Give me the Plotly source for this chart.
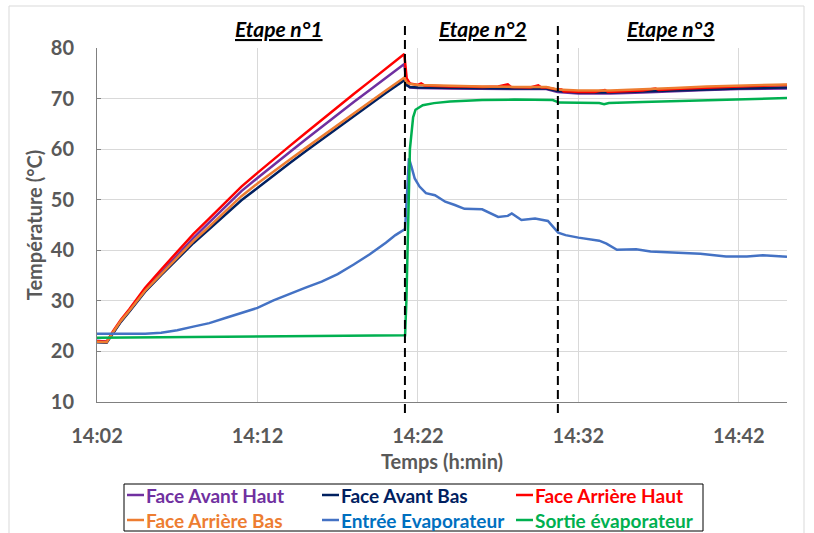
import plotly.graph_objects as go

# ---------------- data (minutes after 14:02, temperature in °C) ----------------
tick_vals = [0, 10, 20, 30, 40]
tick_labels = ["14:02", "14:12", "14:22", "14:32", "14:42"]

stage_bounds = [19.19, 28.72]
stage_labels = ["Etape n°1", "Etape n°2", "Etape n°3"]
stage_label_x = [11.37, 24.08, 35.76]

t_avant_haut = [0, 0.6, 1.0, 1.5, 2, 3, 4, 5, 6, 7, 8, 9, 10, 11, 12, 13, 14, 15, 16, 17, 18, 19, 19.15,
                19.25, 19.4, 19.5, 20, 22, 24, 26, 28, 28.7, 30, 32, 34, 36, 38, 40, 43]
face_avant_haut = [22.1, 21.9, 23.7, 26.0, 28.0, 32.1, 35.6, 39.1, 42.4, 45.5, 48.6, 51.7, 54.3, 56.9, 59.4,
                   61.9, 64.4, 66.8, 69.3, 71.7, 74.1, 76.4, 76.85,
                   74.0, 72.5, 72.2, 72.1, 72.0, 71.9, 71.9, 71.9, 71.3, 71.0, 71.0, 71.2, 71.5, 71.7, 71.9, 72.0]

t_avant_bas = [0, 0.6, 1.0, 1.5, 2, 3, 4, 5, 6, 7, 8, 9, 10, 11, 12, 13, 14, 15, 16, 17, 18, 19, 19.15,
               19.3, 19.5, 20, 22, 24, 26, 28, 28.7, 30, 32, 34, 36, 38, 40, 43]
face_avant_bas = [21.8, 21.7, 23.6, 25.9, 27.8, 31.8, 35.1, 38.3, 41.4, 44.2, 47.1, 49.9, 52.3, 54.8, 57.2,
                  59.6, 61.9, 64.2, 66.6, 68.8, 71.1, 73.3, 73.65,
                  72.6, 72.3, 72.2, 72.1, 72.0, 72.0, 72.0, 71.5, 71.2, 71.2, 71.4, 71.6, 71.9, 72.0, 72.2]

t_arriere_haut = [0, 0.6, 1.0, 1.5, 2, 3, 4, 5, 6, 7, 8, 9, 10, 11, 12, 13, 14, 15, 16, 17, 18, 19, 19.15,
                  19.3, 19.5, 20, 20.2, 20.4, 21, 22, 23, 24, 25, 25.6, 25.8, 26, 27, 27.5, 27.7, 28, 28.5,
                  28.95, 29.1, 29.5, 30, 31, 31.65, 31.85, 32.5, 34, 34.8, 35, 36, 38, 40, 42, 43]
face_arriere_haut = [22.0, 21.9, 24.0, 26.3, 28.3, 32.6, 36.2, 39.8, 43.2, 46.3, 49.5, 52.6, 55.3, 58.0, 60.6,
                     63.2, 65.8, 68.3, 70.9, 73.4, 75.9, 78.3, 78.8,
                     74.0, 73.0, 72.7, 73.0, 72.6, 72.5, 72.4, 72.4, 72.3, 72.4, 72.8, 72.3, 72.3, 72.2, 72.6,
                     72.2, 72.2, 71.9, 71.8, 71.4, 71.4, 71.3, 71.3, 71.7, 71.3, 71.4, 71.6, 72.0, 71.7, 71.9,
                     72.2, 72.4, 72.6, 72.7]

t_arriere_bas = [0, 0.6, 1.0, 1.5, 2, 3, 4, 5, 6, 7, 8, 9, 10, 11, 12, 13, 14, 15, 16, 17, 18, 19, 19.15,
                 19.3, 19.5, 20, 22, 24, 26, 28, 28.7, 30, 32, 34, 36, 38, 40, 43]
face_arriere_bas = [21.9, 21.8, 23.8, 26.1, 28.0, 32.0, 35.3, 38.6, 41.8, 44.7, 47.8, 50.7, 53.2, 55.6, 57.9,
                    60.2, 62.5, 64.8, 67.1, 69.4, 71.6, 73.8, 74.15,
                    73.2, 72.9, 72.7, 72.5, 72.4, 72.3, 72.3, 71.8, 71.6, 71.6, 71.8, 72.1, 72.4, 72.6, 72.8]

t_entree = [0, 3, 4, 5, 6, 7, 8, 9, 10, 11, 12, 13, 14, 15, 16, 17, 18, 18.6, 19.2, 19.3, 19.44, 19.6, 19.8,
            20.1, 20.5, 21.06, 21.7, 22.3, 22.9, 24.0, 24.6, 25.0, 25.6, 25.85, 26.45, 27.3, 28.1, 28.4,
            28.74, 29.2, 30.0, 31.3, 31.75, 32.4, 33.6, 34.5, 36.1, 37.6, 39.2, 40.5, 41.5, 43]
entree_evap = [23.5, 23.5, 23.7, 24.2, 24.9, 25.6, 26.6, 27.6, 28.6, 30.1, 31.4, 32.6, 33.8, 35.3, 37.2,
               39.2, 41.5, 43.0, 44.2, 50.0, 58.2, 56.5, 54.2, 52.6, 51.3, 50.9, 49.6, 48.95, 48.2, 48.1,
               47.2, 46.6, 46.8, 47.3, 46.0, 46.3, 45.8, 44.7, 43.5, 43.0, 42.5, 41.9, 41.3, 40.1, 40.2,
               39.75, 39.55, 39.3, 38.75, 38.75, 39.0, 38.7]

t_sortie = [0, 5, 10, 15, 19.2, 19.28, 19.5, 19.7, 19.85, 20.3, 21, 22, 24, 26, 28, 28.4, 28.8, 30, 31.3,
            31.6, 31.9, 34, 36, 38, 40, 43]
sortie_evap = [22.7, 22.8, 22.9, 23.0, 23.2, 30.0, 60.0, 66.3, 67.8, 68.7, 69.1, 69.4, 69.7, 69.8, 69.8,
               69.7, 69.2, 69.1, 69.1, 68.9, 69.1, 69.3, 69.5, 69.7, 69.9, 70.1]

series_names = ["Face Avant Haut", "Face Avant Bas", "Face Arrière Haut",
                "Face Arrière Bas", "Entrée Evaporateur", "Sortie évaporateur"]
series_t = [t_avant_haut, t_avant_bas, t_arriere_haut, t_arriere_bas, t_entree, t_sortie]
series_v = [face_avant_haut, face_avant_bas, face_arriere_haut, face_arriere_bas, entree_evap, sortie_evap]
line_colors = ["#7030A0", "#002060", "#FF0000", "#ED7D31", "#4472C4", "#00B050"]
text_colors = ["#7030A0", "#002060", "#FF0000", "#ED7D31", "#0070C0", "#00B050"]

# ---------------- geometry helpers (pixel -> paper) ----------------
W, H = 814, 533
ML, MR, MT, MB = 97, 27, 48, 131
PW, PH = W - ML - MR, H - MT - MB


def px(x):
    return (x - ML) / PW


def py(y):
    return (H - MB - y) / PH


FONT = "Lato, 'Open Sans', sans-serif"
GREY = "#595959"

fig = go.Figure()
for name, t, v, c in zip(series_names, series_t, series_v, line_colors):
    fig.add_trace(go.Scatter(x=t, y=v, mode="lines", name=name,
                             line=dict(color=c, width=2.5), showlegend=False))

shapes = []
# chart-area border
shapes.append(dict(type="rect", xref="paper", yref="paper", x0=px(9), x1=px(804), y0=py(545), y1=py(6),
                   line=dict(color="#D9D9D9", width=1), fillcolor="rgba(0,0,0,0)", layer="below"))
# stage boundaries
for b in stage_bounds:
    shapes.append(dict(type="line", xref="x", yref="paper", x0=b, x1=b, y0=py(413), y1=py(22),
                       line=dict(color="black", width=2, dash="9px,5px")))
# legend box
shapes.append(dict(type="rect", xref="paper", yref="paper", x0=px(124), x1=px(703), y0=py(531), y1=py(484),
                   line=dict(color="black", width=1), fillcolor="white"))

annotations = []
for lab, x in zip(stage_labels, stage_label_x):
    annotations.append(dict(x=x, xref="x", y=py(28), yref="paper", showarrow=False,
                            text="<b><i><u>" + lab + "</u></i></b>", xanchor="center", yanchor="middle",
                            font=dict(family=FONT, size=21, color="black")))

col_x = [127, 322, 516]
row_y = [495, 520]
for i, (name, lc, tc) in enumerate(zip(series_names, line_colors, text_colors)):
    cx = col_x[i % 3]
    ry = row_y[i // 3]
    shapes.append(dict(type="line", xref="paper", yref="paper", x0=px(cx), x1=px(cx + 17),
                       y0=py(ry), y1=py(ry), line=dict(color=lc, width=2.5)))
    annotations.append(dict(x=px(cx + 17), xref="paper", y=py(ry), yref="paper", showarrow=False,
                            text="<b>" + name + "</b>", xanchor="left", yanchor="middle",
                            font=dict(family=FONT, size=19, color=tc)))

fig.update_layout(
    width=W, height=H,
    margin=dict(l=ML, r=MR, t=MT, b=MB, pad=0, autoexpand=False),
    plot_bgcolor="white", paper_bgcolor="white",
    showlegend=False,
    font=dict(family=FONT, color=GREY),
    shapes=shapes, annotations=annotations,
    xaxis=dict(range=[0, 43], tickmode="array", tickvals=tick_vals, ticktext=tick_labels,
               showgrid=True, gridcolor="#D9D9D9", gridwidth=1, zeroline=False,
               showline=True, linecolor="#808080", linewidth=1, ticks="",
               ticklabelstandoff=16,
               tickfont=dict(family=FONT, size=20, color=GREY, weight="bold"),
               title=dict(text="<b>Temps (h:min)</b>", standoff=8,
                          font=dict(family=FONT, size=20, color=GREY))),
    yaxis=dict(range=[10, 80], dtick=10, tick0=10,
               showgrid=True, gridcolor="#D9D9D9", gridwidth=1, zeroline=False,
               showline=True, linecolor="#808080", linewidth=1,
               ticks="inside", ticklen=4, tickcolor="#808080",
               ticklabelstandoff=18,
               tickfont=dict(family=FONT, size=20, color=GREY, weight="bold"),
               title=dict(text="<b>Température (°C)</b>", standoff=2,
                          font=dict(family=FONT, size=20, color=GREY))),
)

fig.write_html("out.html", post_script="document.body.style.margin='0';",
               config={"displayModeBar": False})
